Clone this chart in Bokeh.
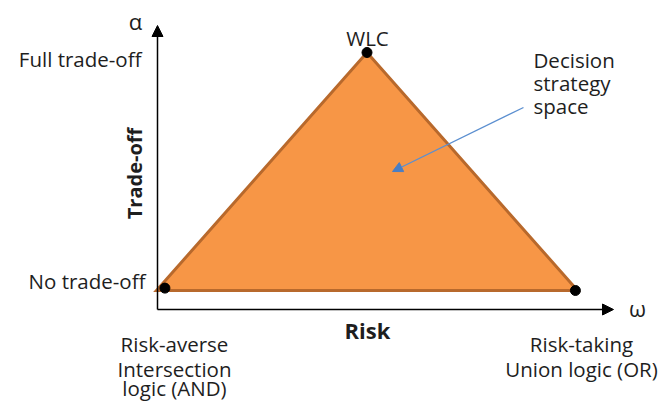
from bokeh.plotting import figure
from bokeh.models import Range1d, Arrow, NormalHead, Label
from bokeh.embed import file_html
from bokeh.resources import INLINE
import math

# ---- data (omega = risk, alpha = trade-off), unit triangle of decision strategies
tri_omega = [0.0, 0.5, 1.0]
tri_alpha = [0.0, 1.0, 0.0]
dot_omega = [0.02, 0.5, 0.995]
dot_alpha = [0.01, 1.0, 0.0]
dot_names = ["AND", "WLC", "OR"]

y_tick_labels = ["No trade-off", "Full trade-off"]
x_tick_labels = [["Risk-averse", "Intersection", "logic (AND)"],
                 ["Risk-taking", "Union logic (OR)"]]

# ---- layout
W, H = 663, 401
SX, SY = 421.0, 238.0          # px per unit
OX, OY = 156.0, 290.0          # pixel position of (0, 0)
X0, X1 = -OX / SX, (W - OX) / SX
Y0, Y1 = (OY - H) / SY, OY / SY
BASE_FIX = 8                   # text baseline correction (px)


def P(px, py):
    """canvas pixel -> data coordinates"""
    return X0 + px / W * (X1 - X0), Y1 - py / H * (Y1 - Y0)


FONT = "Open Sans"
TXT = "#1e1e1e"

p = figure(width=W, height=H, x_range=Range1d(X0, X1), y_range=Range1d(Y0, Y1),
           output_backend="svg", toolbar_location=None, min_border=0,
           x_axis_type=None, y_axis_type=None)
p.grid.visible = False
p.outline_line_color = None
p.background_fill_color = "white"

p.patch(tri_omega, tri_alpha, fill_color="#f79646", line_color="#b8692c",
        line_width=3, line_join="miter")
p.scatter(dot_omega, dot_alpha, size=10, color="black")

# axes
ax0 = P(157, 309)
ytip = P(157, 25)
xtip = P(613, 309)
p.add_layout(Arrow(x_start=ax0[0], y_start=ax0[1], x_end=ytip[0], y_end=ytip[1],
                   line_color="black", line_width=1.5,
                   end=NormalHead(size=11, fill_color="black", line_color="black")))
p.add_layout(Arrow(x_start=ax0[0], y_start=ax0[1], x_end=xtip[0], y_end=xtip[1],
                   line_color="black", line_width=1.5,
                   end=NormalHead(size=11, fill_color="black", line_color="black")))

# annotation arrow
a0 = P(523, 107)
a1 = P(392, 171)
p.add_layout(Arrow(x_start=a0[0], y_start=a0[1], x_end=a1[0], y_end=a1[1],
                   line_color="#5b8fd0", line_width=1.3,
                   end=NormalHead(size=10, fill_color="#4a7ec4", line_color="#4a7ec4")))


def label(px, py, text, size="20.5px", align="left", style="normal", angle=0.0):
    if angle:
        x, y = P(px - BASE_FIX, py)
    else:
        x, y = P(px, py - BASE_FIX)
    p.add_layout(Label(x=x, y=y, text=text, text_font=FONT, text_font_size=size,
                       text_align=align, text_baseline="alphabetic",
                       text_font_style=style, text_color=TXT, angle=angle))


label(135, 28, "α", size="22px", align="center")
label(637, 315, "ω", size="22px", align="center")
label(141, 66, y_tick_labels[1], align="right")
label(145, 288, y_tick_labels[0], align="right")
label(367, 45, dot_names[1], align="center")
label(533, 67, "Decision")
label(533, 90, "strategy")
label(533, 113, "space")
label(142, 173, "Trade-off", size="20px", align="center", style="bold", angle=math.pi / 2)
label(367, 337, "Risk", size="22px", align="center", style="bold")
for t, by in zip(x_tick_labels[0], [351, 376, 395]):
    label(174, by, t, align="center")
for t, by in zip(x_tick_labels[1], [351, 376]):
    label(581, by, t, align="center")

open("out.html", "w").write(file_html(p, INLINE))
